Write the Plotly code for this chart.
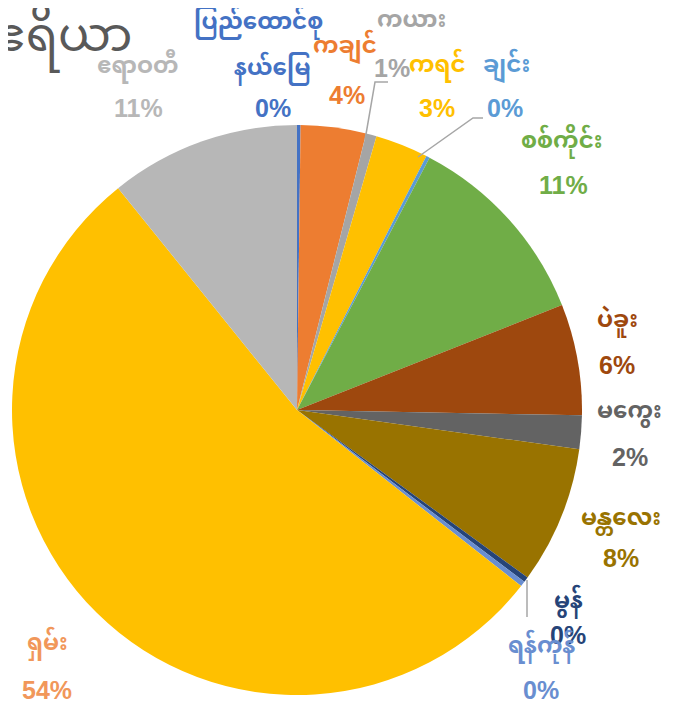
import plotly.graph_objects as go

W, H = 673, 707
OFF = 8  # page body margin

# data
regions = ["ပြည်ထောင်စုနယ်မြေ", "ကချင်", "ကယား", "ကရင်", "ချင်း", "စစ်ကိုင်း", "ပဲခူး",
           "မကွေး", "မန္တလေး", "မွန်", "ရန်ကုန်", "ရှမ်း", "ဧရာဝတီ"]
shares = [0.2, 3.7, 0.6, 3.0, 0.2, 11.3, 6.3, 1.9, 7.8, 0.3, 0.3, 53.6, 10.8]
slice_colors = ["#4472C4", "#ED7D31", "#A5A5A5", "#FFC000", "#5B9BD5", "#70AD47", "#9E480E",
                "#636363", "#997300", "#264478", "#698ED0", "#FFC000", "#B7B7B7"]
label_colors = ["#4472C4", "#ED7D31", "#A5A5A5", "#FFC000", "#5B9BD5", "#70AD47", "#9E480E",
                "#636363", "#997300", "#264478", "#698ED0", "#F1975A", "#B7B7B7"]
label_lines = [["ပြည်ထောင်စု", "နယ်မြေ"], ["ကချင်"], ["ကယား"], ["ကရင်"], ["ချင်း"], ["စစ်ကိုင်း"],
               ["ပဲခူး"], ["မကွေး"], ["မန္တလေး"], ["မွန်"], ["ရန်ကုန်"], ["ရှမ်း"], ["ဧရာဝတီ"]]

# label placement (pixel centres of each name line and the percent line)
name_pos = [[(258, 24), (272, 70)], [(345, 48)], [(411, 22)], [(437, 67)], [(506, 67)],
            [(562, 143)], [(617, 322)], [(629, 413)], [(621, 520)], [(568, 603)],
            [(541, 648)], [(47, 645)], [(138, 68)]]
pct_pos = [(273, 108), (347, 95), (392, 68), (437, 108), (505, 108), (563, 185), (617, 365),
           (630, 457), (621, 558), (568, 635), (541, 690), (47, 690), (138, 108)]

FONT = "Noto Sans Myanmar, Myanmar Text, Noto Sans, DejaVu Sans, sans-serif"

def px(x, y):
    return (x - OFF) / (W - OFF), 1 - (y - OFF) / (H - OFF)

cx, cy, R = 297, 410, 285
x0, y1 = px(cx - R, cy - R)
x1, y0 = px(cx + R, cy + R)
fig = go.Figure(go.Pie(
    labels=regions, values=shares, sort=False, direction="clockwise", rotation=0,
    marker=dict(colors=slice_colors, line=dict(width=0)),
    textinfo="none", hoverinfo="label+percent", showlegend=False,
    domain=dict(x=[x0, x1], y=[y0, y1]),
))

total = sum(shares)
annotations = []
for lines, v, col, npos, ppos in zip(label_lines, shares, label_colors, name_pos, pct_pos):
    for line, p in zip(lines, npos):
        x, y = px(*p)
        annotations.append(dict(x=x, y=y, xref="paper", yref="paper", text="<b>%s</b>" % line,
                                xanchor="center", yanchor="middle", showarrow=False,
                                font=dict(family=FONT, size=23, color=col)))
    x, y = px(*ppos)
    annotations.append(dict(x=x, y=y, xref="paper", yref="paper", text="<b>%d%%</b>" % round(v / total * 100),
                            xanchor="center", yanchor="middle", showarrow=False,
                            font=dict(family="Liberation Sans, Arial", size=25, color=col)))

# chart title (cut at left edge)
tx, ty = px(134, 40)
annotations.append(dict(x=tx, y=ty, xref="paper", yref="paper", text="ဧရိယာ", xanchor="right",
                        yanchor="middle", showarrow=False,
                        font=dict(family=FONT, size=47, color="#595959")))

# leader lines
leaders = [[(365, 140), (375, 82), (388, 82)],
           [(418, 157), (473, 118), (483, 118)],
           [(527, 580), (527, 617)]]
shapes = []
for pts in leaders:
    path = "M " + " L ".join("%f,%f" % px(*p) for p in pts)
    shapes.append(dict(type="path", xref="paper", yref="paper", path=path,
                       line=dict(color="#A6A6A6", width=1.5)))

fig.update_layout(width=W - OFF, height=H - OFF, margin=dict(l=0, r=0, t=0, b=0),
                  paper_bgcolor="white", plot_bgcolor="white",
                  annotations=annotations, shapes=shapes)

fig.write_html("out.html")
